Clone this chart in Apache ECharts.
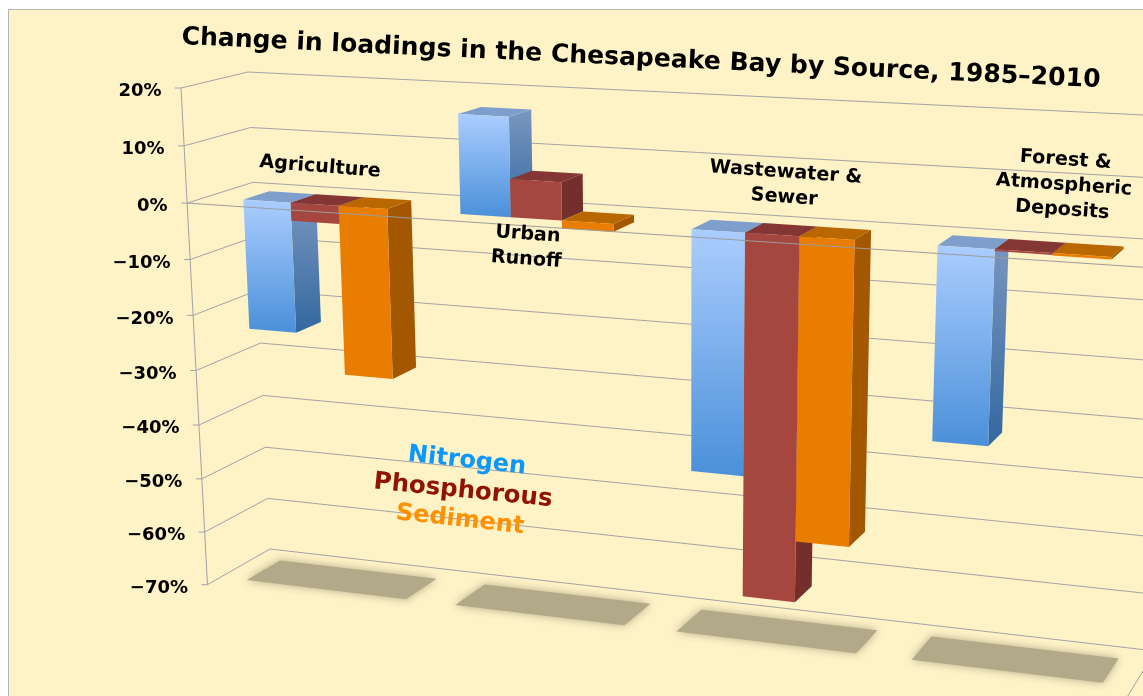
<!DOCTYPE html>
<html><head><meta charset="utf-8">
<style>html,body{margin:0;padding:0;background:#fff}#c{width:1143px;height:696px}</style>
<script src="https://cdn.jsdelivr.net/npm/echarts@6/dist/echarts.min.js"></script>
</head><body><div id="c"></div>
<script>
const categories = ['Agriculture', 'Urban\nRunoff', 'Wastewater &\nSewer', 'Forest &\nAtmospheric\nDeposits'];
const nitrogen = [-23.2, 17, -41.5, -32.4];
const phosphorous = [-3.2, 6.5, -62.8, -0.3];
const sediment = [-30.1, -1.3, -52, -0.4];
const tickValues = [20, 10, 0, -10, -20, -30, -40, -50, -60, -70];
const tickLabels = ['20%', '10%', '0%', '\u221210%', '\u221220%', '\u221230%', '\u221240%', '\u221250%', '\u221260%', '\u221270%'];
const titleText = 'Change in loadings in the Chesapeake Bay by Source, 1985\u20132010';

// ---- layout: camera of the 3-D scene -----
const Q = [[248,72],[1179,116.7],[1151,650.5],[270,549]];   // back wall corners
const VP = [1723,-280], DEPTH = 0.04345;                    // depth vanishing point
const DF = 0.72, DB = 0.32;                                 // bar front / back planes
const GAP = 0.177, BARW = 0.2233;
const SH_X = 0.05, SH_DB = 0.25, SH_DF = 0.79;              // floor shadow extent
const CORNER_X = 4.017;
const G = {left:100, top:100, width:800, height:450};
const H = (() => {
  const [[x0,y0],[x1,y1],[x2,y2],[x3,y3]] = Q;
  const dx1=x1-x2, dx2=x3-x2, sx=x0-x1+x2-x3, dy1=y1-y2, dy2=y3-y2, sy=y0-y1+y2-y3;
  const den=dx1*dy2-dx2*dy1, g=(sx*dy2-dx2*sy)/den, h=(dx1*sy-sx*dy1)/den;
  return {a:x1-x0+g*x1,b:x3-x0+h*x3,c:x0,d:y1-y0+g*y1,e:y3-y0+h*y3,f:y0,g,h};
})();
// api.coord gives the flat position on the hidden cartesian; it is then projected in perspective
function proj(api, x, v, d) {
  const p = api.coord([x, v]);
  const u = (p[0]-G.left)/G.width, t = (p[1]-G.top)/G.height, k = DEPTH*d;
  const w = H.g*u+H.h*t+1-k;
  return [(H.a*u+H.b*t+H.c-k*VP[0])/w, (H.d*u+H.e*t+H.f-k*VP[1])/w];
}
const lineCol = '#a3a3a8';
const poly = (points, fill) => ({type:'polygon', shape:{points}, style:{fill}});
const vgrad = (a,b) => ({type:'linear',x:0,y:0,x2:0,y2:1,colorStops:[{offset:0,color:a},{offset:1,color:b}]});
const line = (points, stroke, lw) => ({type:'polyline', shape:{points}, style:{fill:null, stroke:stroke||lineCol, lineWidth:lw||1}});
const catFont = 'bold 19.2px "DejaVu Sans"';

function barSeries(name, values, idx, col) {
  return {
    type:'custom', name, coordinateSystem:'cartesian2d', clip:false, z:5+idx,
    data: values.map((v,i)=>[i,v]),
    encode:{x:0,y:1},
    renderItem(params, api) {
      const cat=api.value(0), v=api.value(1);
      const x0=cat+GAP+idx*BARW, x1=x0+BARW, top=Math.max(0,v), bot=Math.min(0,v);
      const P=(x,val,d)=>proj(api,x,val,d);
      return {type:'group', children:[
        poly([P(x1,top,DF),P(x1,top,DB),P(x1,bot,DB),P(x1,bot,DF)], col.side),
        poly([P(x0,top,DF),P(x0,top,DB),P(x1,top,DB),P(x1,top,DF)], col.top),
        poly([P(x0,top,DF),P(x1,top,DF),P(x1,bot,DF),P(x0,bot,DF)], col.front)
      ]};
    }
  };
}

const option = {
  animation:false,
  backgroundColor:'#ffffff',
  grid:{left:G.left, top:G.top, width:G.width, height:G.height},
  xAxis:{type:'value', min:0, max:4, show:false},
  yAxis:{type:'value', min:-70, max:20, interval:10, show:false},
  graphic:[
    {type:'rect', z:-10, silent:true, shape:{x:8.5,y:9.5,width:1200,height:760}, style:{fill:'#fef2c7', stroke:'#b4b4b4', lineWidth:1}},
    {type:'text', z:50, x:641, y:59, rotation:-0.047, style:{text:titleText, font:'bold 25.1px "DejaVu Sans"', fill:'#000', align:'center', verticalAlign:'middle'}},
    {type:'text', z:50, x:320, y:167, rotation:-0.08, style:{text:categories[0], font:catFont, fill:'#000', align:'center', verticalAlign:'middle'}},
    {type:'text', z:50, x:527, y:247, rotation:-0.07, style:{text:categories[1], font:catFont, lineHeight:25, fill:'#000', align:'center', verticalAlign:'middle'}},
    {type:'text', z:50, x:785, y:185, rotation:-0.07, style:{text:categories[2], font:catFont, lineHeight:25, fill:'#000', align:'center', verticalAlign:'middle'}},
    {type:'text', z:50, x:1064, y:185, rotation:-0.07, style:{text:categories[3], font:catFont, lineHeight:25, fill:'#000', align:'center', verticalAlign:'middle'}},
    {type:'text', z:50, x:467, y:461, rotation:-0.11, style:{text:'Nitrogen', font:'bold 24px "DejaVu Sans"', fill:'#0a98ff', align:'center', verticalAlign:'middle'}},
    {type:'text', z:50, x:463, y:491, rotation:-0.10, style:{text:'Phosphorous', font:'bold 24.5px "DejaVu Sans"', fill:'#8f1300', align:'center', verticalAlign:'middle'}},
    {type:'text', z:50, x:460, y:520, rotation:-0.11, style:{text:'Sediment', font:'bold 24px "DejaVu Sans"', fill:'#ff9100', align:'center', verticalAlign:'middle'}}
  ],
  series:[
    { // walls and gridlines
      type:'custom', coordinateSystem:'cartesian2d', clip:false, z:1, silent:true,
      data: tickValues.map((v,i)=>[0,v,i]), encode:{x:0,y:1},
      renderItem(params, api) {
        const v=api.value(1), i=api.value(2);
        const f=proj(api,0,v,1), b=proj(api,0,v,0), r=proj(api,CORNER_X,v,0);
        const kids=[line([[f[0]-6,f[1]],f,b,r])];
        kids.push({type:'text', style:{text:tickLabels[i], x:f[0]-19.5, y:f[1]+3.5, align:'right', verticalAlign:'middle', font:'bold 18px "DejaVu Sans"', fill:'#000'}});
        if(i===tickValues.length-1){
          kids.push(line([f,proj(api,0,tickValues[0],1)]));
          kids.push(line([r,proj(api,CORNER_X,v,1)]));
        }
        return {type:'group',children:kids};
      }
    },
    { // floor shadows
      type:'custom', coordinateSystem:'cartesian2d', clip:false, z:2, silent:true,
      data: categories.map((c,i)=>[i,-70]), encode:{x:0,y:1},
      renderItem(params, api) {
        const c=api.value(0), v=api.value(1), x0=c+GAP-SH_X, x1=c+GAP+3*BARW+SH_X;
        return {type:'polygon', shape:{points:[proj(api,x0,v,SH_DB),proj(api,x1,v,SH_DB),proj(api,x1,v,SH_DF),proj(api,x0,v,SH_DF)]},
          style:{fill:'#b2a988', shadowBlur:8, shadowColor:'#b2a988'}};
      }
    },
    barSeries('Nitrogen', nitrogen, 0, {front:vgrad('#abcdff','#4a90d9'), side:vgrad('#7a97c0','#33689f'), top:'#7e9fcb'}),
    barSeries('Phosphorous', phosphorous, 1, {front:'#a5463f', side:'#752f2b', top:'#833633'}),
    barSeries('Sediment', sediment, 2, {front:'#e87d00', side:'#a35700', top:'#b96700'}),
    { // zero axis on the front plane, over the bars
      type:'custom', coordinateSystem:'cartesian2d', clip:false, z:20, silent:true,
      data:[[0,0]], encode:{x:0,y:1},
      renderItem(params, api) { return line([proj(api,0,0,1),proj(api,CORNER_X,0,1)],'#9c9c9c',1); }
    }
  ]
};
echarts.init(document.getElementById('c'),null,{renderer:'canvas'}).setOption(option);
</script></body></html>
